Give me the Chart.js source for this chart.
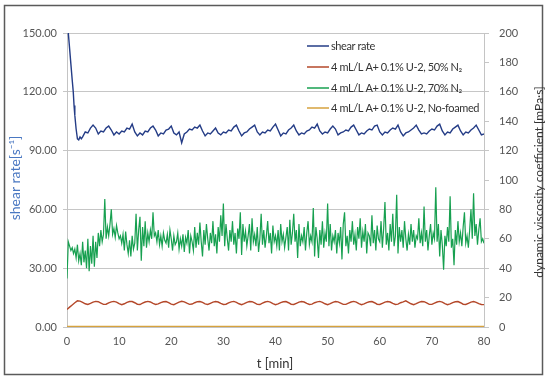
<!DOCTYPE html>
<html>
<head>
<meta charset="utf-8">
<script src="https://cdn.jsdelivr.net/npm/chart.js@4.4.1/dist/chart.umd.min.js"></script>
<style>
  html, body { margin: 0; padding: 0; background: #fff; }
  #wrap { width: 550px; height: 384px; }
</style>
</head>
<body>
<div id="wrap"><canvas id="myChart" width="550" height="384"></canvas></div>
<script>
// series names (legend order)
const seriesNames = [
    'shear rate',
    '4 mL/L A+ 0.1% U-2, 50% N\u2082',
    '4 mL/L A+ 0.1% U-2, 70% N\u2082',
    '4 mL/L A+ 0.1% U-2, No-foamed'
];

// shear rate [1/s], first minutes read at irregular times, then every 0.5 min from t = 3
const shearHeadT = [0, 0.25, 0.5, 0.75, 1.0, 1.2, 1.35, 1.5, 1.75, 2.0, 2.25, 2.5, 2.75];
const shearHeadV = [158, 150, 142, 134, 126, 120, 113, 108, 101, 96, 95.5, 97, 96];
const shearStart = 3;
const shearStep = 0.5;
const shearRate = [
    97, 99.5, 99, 101.5, 103, 101.5, 98.5, 100,
    99.5, 101.5, 102.5, 100.5, 98, 99.5, 98.5, 100,
    99.5, 101.5, 101, 103.5, 99.5, 97.5, 99, 98,
    100, 99.5, 101.5, 102.5, 100.5, 97.5, 99, 98.5,
    100.5, 101, 102.5, 99, 98, 99.5, 94, 98.5,
    99.5, 101, 100.5, 102, 101.5, 103, 100, 97.5,
    99, 98.5, 100, 101.5, 99, 98, 99.5, 99,
    100.5, 100, 102, 103, 100, 97.5, 99, 99.5,
    101, 102, 103, 99.5, 98, 99.5, 99, 100.5,
    100, 102, 103.5, 100.5, 97.5, 99, 98.5, 100.5,
    101.5, 103, 100, 98, 99, 98.5, 100, 100.5,
    102, 101.5, 103.5, 100, 98.5, 99.5, 99, 101,
    102.5, 101, 98, 99, 99.5, 100.5, 100, 102,
    103, 100.5, 98, 99, 98.5, 100, 101, 100.5,
    102.5, 103, 99.5, 98, 99.5, 99, 100.5, 101.5,
    101, 103, 99.5, 97.5, 99, 99.5, 100.5, 101.5,
    103, 100.5, 98.5, 99, 98.5, 100, 101, 100.5,
    102.5, 103.5, 100, 98, 99.5, 99, 101, 102,
    103, 100, 98, 99.5, 99, 100.5, 101.5, 103,
    100.5, 98, 98.5
];

// dynamic viscosity [mPa·s], 50% N2, every 0.5 min
const step50 = 0.5;
const visc50 = [
    12, 13.5, 15, 16.5, 17.8, 17.6, 16.8, 15.8,
    15.3, 16, 16.9, 17.4, 17.2, 16.3, 15.4, 15.5,
    16.4, 17.1, 17.4, 16.9, 15.9, 15.2, 15.8, 16.7,
    17.3, 17.3, 16.5, 15.5, 15.3, 16.2, 17, 17.4,
    17, 16, 15.3, 15.7, 16.6, 17.2, 17.3, 16.6,
    15.6, 15.2, 16, 16.9, 17.5, 17.1, 16.2, 15.4,
    15.6, 16.5, 17.2, 17.3, 16.7, 15.7, 15.3, 16.1,
    16.9, 17.3, 17, 16.1, 15.3, 15.5, 16.4, 17.1,
    17.4, 16.8, 15.8, 15.2, 15.9, 16.8, 17.3, 17.2,
    16.4, 15.4, 15.3, 16.2, 17, 17.4, 16.9, 15.9,
    15.2, 15.7, 16.6, 17.2, 17.3, 16.5, 15.5, 15.3,
    16.1, 16.9, 17.3, 17, 16.1, 15.3, 15.6, 16.5,
    17.1, 17.4, 16.8, 15.8, 15.2, 15.9, 16.8, 17.3,
    17.1, 16.3, 15.4, 15.4, 16.3, 17, 17.4, 16.9,
    15.9, 15.2, 15.7, 16.6, 17.2, 17.3, 16.5, 15.5,
    15.3, 16.1, 16.9, 17.3, 17, 16.1, 15.3, 15.6,
    16.5, 17.1, 17.8, 16.8, 15.8, 15.2, 15.9, 16.8,
    17.3, 17.2, 16.4, 15.4, 15.4, 16.3, 17, 17.4,
    16.9, 15.9, 15.2, 15.7, 16.6, 17.2, 17.3, 16.5,
    15.5, 15.3, 16.1, 16.9, 17.3, 16.8, 15.9, 15.3,
    15.2
];

// dynamic viscosity [mPa·s], 70% N2, every 0.25 min (one group of 4 per minute)
const step70 = 0.25;
const visc70 = [
    33, 58, 55, 52,   54, 50, 53, 47,   56, 45, 50, 42,   58, 44, 52, 40,
    60, 38, 55, 43,   62, 41, 58, 47,   64, 55, 66, 58,   63, 87, 60, 68,
    62, 70, 80, 63,   67, 61, 69, 64,   60, 62, 57, 63,   52, 65, 56, 50,
    59, 48, 62, 53,   57, 77, 52, 66,   75, 45, 68, 55,   72, 54, 64, 58,
    66, 60, 78, 62,   64, 58, 66, 56,   62, 55, 64, 59,   57, 63, 54, 66,
    60, 52, 62, 56,   58, 64, 53, 60,   55, 63, 51, 61,   57, 66, 50, 62,
    58, 52, 68, 54,   64, 56, 71, 58,   48, 66, 56, 70,   60, 52, 64, 57,
    72, 55, 63, 50,   68, 58, 76, 62,   84, 55, 70, 60,   52, 66, 58, 72,
    56, 64, 50, 67,   60, 78, 49, 70,   58, 65, 55, 62,   70, 52, 74, 58,
    63, 55, 68, 51,   60, 77, 56, 66,   54, 62, 72, 57,   64, 50, 69, 58,
    62, 55, 66, 52,   70, 58, 63, 54,   61, 68, 52, 73,   56, 64, 77, 58,
    66, 47, 70, 55,   62, 58, 68, 52,   64, 72, 56, 62,   58, 81, 48, 68,
    60, 47, 66, 56,   72, 54, 64, 58,   84, 55, 70, 52,   62, 58, 66, 50,
    64, 57, 68, 46,   70, 78, 55, 62,   50, 66, 58, 72,   56, 63, 52, 68,
    60, 74, 54, 65,   58, 70, 50, 64,   62, 55, 76, 57,   66, 52, 69, 60,
    58, 72, 54, 67,   85, 56, 64, 52,   70, 58, 77, 55,   62, 90, 50, 68,
    58, 66, 54, 72,   60, 52, 63, 56,   70, 58, 66, 54,   62, 60, 74, 57,
    64, 55, 82, 58,   66, 52, 62, 70,   56, 64, 60, 95,   58, 70, 48, 66,
    56, 39, 62, 55,   68, 58, 89, 54,   60, 42, 66, 56,   72, 58, 64, 55,
    68, 78, 57, 62,   54, 66, 80, 60,   91, 62, 70, 56,   66, 74, 58, 60,
    57
];

// dynamic viscosity [mPa·s], no foam
const noFoamT = [0, 40, 80];
const noFoamV = [0.4, 0.4, 0.4];

// axis ticks: min, max, step
const xTicks = [0, 80, 10];
const leftTicks = [0, 150, 30];
const rightTicks = [0, 200, 20];

const toPts = (start, step, arr) => arr.map((v, i) => ({ x: start + i * step, y: v }));

const shearPts = shearHeadT.map((t, i) => ({ x: t, y: shearHeadV[i] }))
    .concat(toPts(shearStart, shearStep, shearRate));
const noFoamPts = noFoamT.map((t, i) => ({ x: t, y: noFoamV[i] }));

const colors = ['#243c86', '#b4482a', '#17a050', '#d6a23e'];
const fontFam = "Lato, 'Open Sans', sans-serif";

const decor = {
    id: 'decor',
    afterDraw(chart) {
        const c = chart.ctx;
        c.save();
        // outer frame
        c.strokeStyle = '#5a5a5a';
        c.lineWidth = 1.5;
        c.strokeRect(4.5, 5.5, 538, 369);
        // legend inside plot
        c.font = '11px ' + fontFam;
        c.letterSpacing = '-0.4px';
        c.textBaseline = 'middle';
        c.textAlign = 'left';
        const rows = [46, 67, 88, 108];
        for (let i = 0; i < seriesNames.length; i++) {
            c.strokeStyle = colors[i];
            c.lineWidth = 1.5;
            c.beginPath();
            c.moveTo(307, rows[i]);
            c.lineTo(329, rows[i]);
            c.stroke();
            c.fillStyle = '#333';
            c.fillText(seriesNames[i], 331, rows[i]);
        }
        c.letterSpacing = '0px';
        // axis titles
        c.textAlign = 'center';
        c.font = '13px ' + fontFam;
        c.fillStyle = '#333';
        c.fillText('t [min]', 275, 364);
        c.save();
        c.translate(15, 178);
        c.rotate(-Math.PI / 2);
        c.font = '14px ' + fontFam;
        c.fillStyle = '#4a78c2';
        c.fillText('shear rate[s\u207B\u00B9]', 0, 0);
        c.restore();
        c.save();
        c.translate(539, 182);
        c.rotate(-Math.PI / 2);
        c.font = '12px ' + fontFam;
        c.fillStyle = '#333';
        c.fillText('dynamic viscosity coefficient [mPa\u00B7s]', 0, 0);
        c.restore();
        c.restore();
    }
};

const tickFont = { family: fontFam, size: 11 };

const config = {
    type: 'line',
    data: {
        datasets: [
            { label: seriesNames[0], data: shearPts, yAxisID: 'y', borderColor: colors[0], borderWidth: 1.4 },
            { label: seriesNames[1], data: toPts(0, step50, visc50), yAxisID: 'y2', borderColor: colors[1], borderWidth: 1.4 },
            { label: seriesNames[2], data: toPts(0, step70, visc70), yAxisID: 'y2', borderColor: colors[2], borderWidth: 1.2 },
            { label: seriesNames[3], data: noFoamPts, yAxisID: 'y2', borderColor: colors[3], borderWidth: 1.5 }
        ]
    },
    options: {
        responsive: false,
        animation: false,
        devicePixelRatio: 1,
        layout: { padding: { top: 33, left: 0, right: 0, bottom: 0 } },
        elements: { point: { radius: 0 }, line: { tension: 0 } },
        plugins: { legend: { display: false }, tooltip: { enabled: false } },
        scales: {
            x: {
                type: 'linear',
                min: xTicks[0], max: xTicks[1],
                ticks: { stepSize: xTicks[2], font: tickFont, color: '#555', padding: 8 },
                grid: { display: true, drawOnChartArea: false, drawTicks: false },
                border: { color: '#c4c4c4' },
                afterFit: (s) => { s.height = 57; }
            },
            y: {
                position: 'left',
                min: leftTicks[0], max: leftTicks[1],
                ticks: { stepSize: leftTicks[2], font: tickFont, color: '#555', padding: 6,
                    callback: (v) => v.toFixed(2) },
                grid: { color: '#c6c6c6', tickLength: 4 },
                border: { color: '#c4c4c4' },
                afterFit: (s) => { s.width = 67; }
            },
            y2: {
                position: 'right',
                min: rightTicks[0], max: rightTicks[1],
                ticks: { stepSize: rightTicks[2], font: tickFont, color: '#555', padding: 10 },
                grid: { drawOnChartArea: false, color: '#c6c6c6', tickLength: 5 },
                border: { color: '#c4c4c4' },
                afterFit: (s) => { s.width = 66; }
            }
        }
    },
    plugins: [decor]
};

const myChart = new Chart(document.getElementById('myChart'), config);
</script>
</body>
</html>
